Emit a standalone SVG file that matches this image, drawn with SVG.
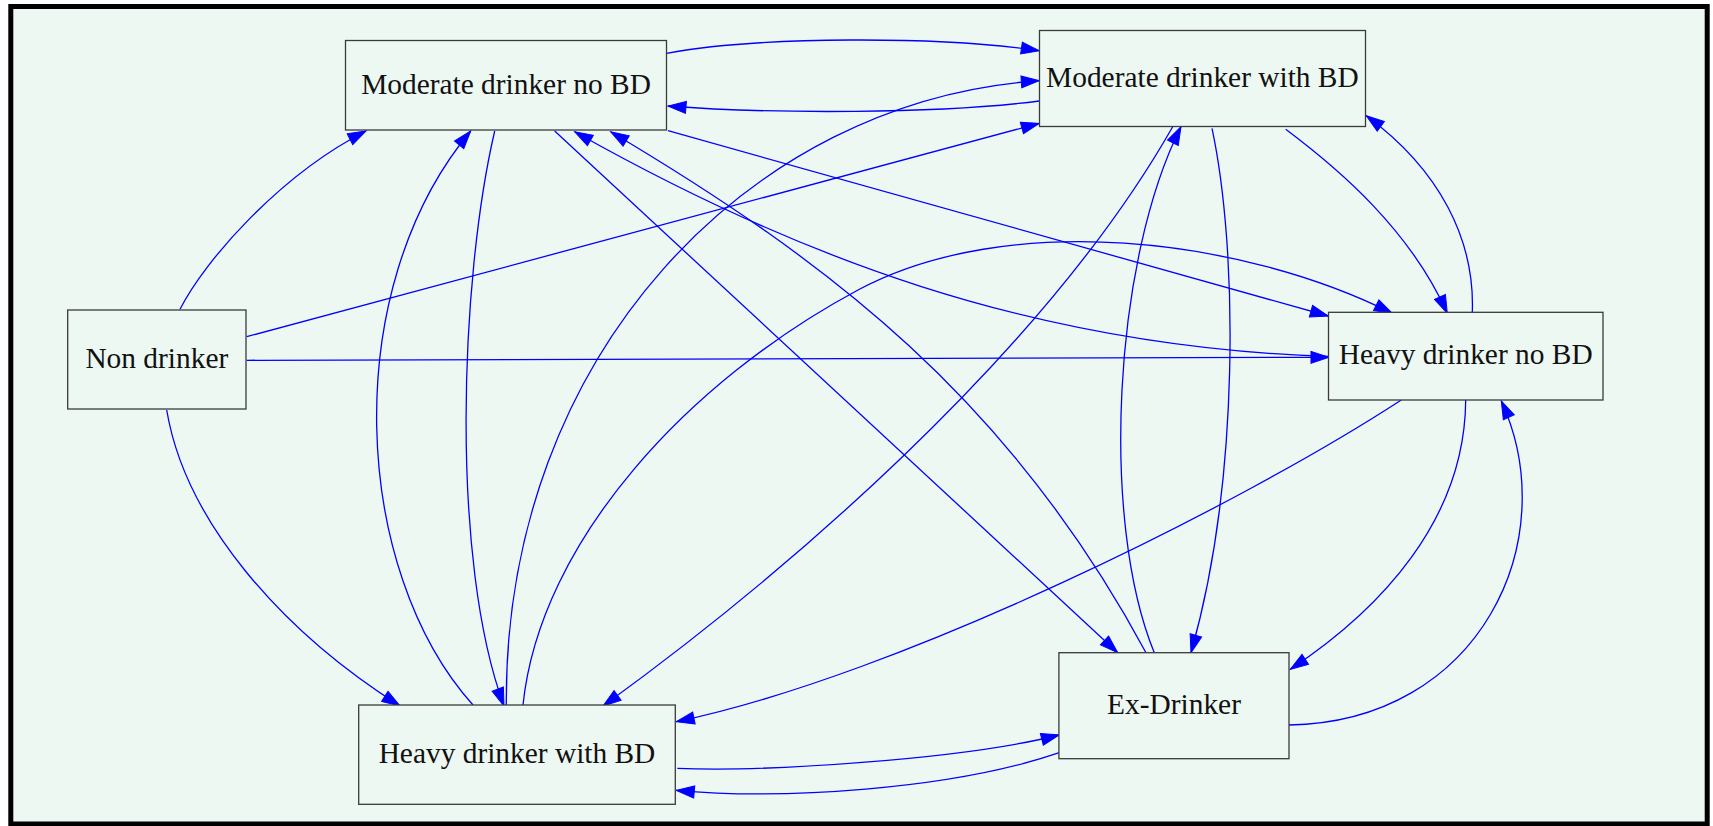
<svg xmlns="http://www.w3.org/2000/svg" width="1713" height="826" viewBox="0 0 1713 826">
  <defs>
    <style>
      .node rect { fill: #eef8f2; stroke: #3a3a3a; stroke-width: 1.3; }
      .node text { font-family: "Liberation Serif", "Times New Roman", serif; font-size: 29.4px; fill: #111; text-anchor: middle; }
      #edges path { fill: none; stroke: #0000ff; stroke-width: 1.3; marker-end: url(#arrow); }
    </style>
    <marker id="arrow" markerUnits="userSpaceOnUse" viewBox="0 0 18 12" markerWidth="18" markerHeight="12" refX="18" refY="6" orient="auto" overflow="visible">
      <path d="M0,0 L18,6 L0,12 z" fill="#0000ff" stroke="#0000ff" stroke-width="1"/>
    </marker>
  </defs>

  <!-- canvas with heavy border -->
  <rect x="0" y="0" width="1713" height="826" fill="#ffffff"/>
  <rect id="frame" x="10.8" y="6.5" width="1696.4" height="817.5" fill="#eef8f2" stroke="#000000" stroke-width="5"/>

  <!-- transitions -->
  <g id="edges">
    <path id="e-modno-modbd" d="M666.7,53.3 C760,36 940,36 1039.3,50.7"/>
    <path id="e-modbd-modno" d="M1039.3,101 C940,114 770,114 668,106"/>
    <path id="e-non-modno" d="M180,309.3 C205,260 280,175 366,131"/>
    <path id="e-non-modbd" d="M246.7,336.7 L1039.3,123.3"/>
    <path id="e-non-heavyno" d="M246.7,360.3 L1329,357.3"/>
    <path id="e-non-heavybd" d="M166.7,410 C185,520 280,630 400,706"/>
    <path id="e-heavybd-modno" d="M473,705 C352,570 338,290 470.7,131"/>
    <path id="e-modno-heavybd" d="M494.7,131 C460,280 450,560 504,706"/>
    <path id="e-heavybd-modbd" d="M506.3,705 C504,355 750,100 1039.3,80.7"/>
    <path id="e-heavybd-heavyno" d="M523,705 C540,540 690,380 858,290 C1007.6,210.1 1240.3,237.3 1392.3,313.3"/>
    <path id="e-modno-ex" d="M554.7,131 L1117.7,652.7"/>
    <path id="e-ex-modno" d="M1146,652.7 C1010,400 830,262 610.7,131.7"/>
    <path id="e-heavyno-modno" d="M1328.3,356.5 C1028.3,346.5 792.2,254.2 574.7,131.7"/>
    <path id="e-modno-heavyno" d="M668,130.7 L1328.3,316"/>
    <path id="e-modbd-heavybd" d="M1172.7,126.7 C1040,360 770,585 603,706"/>
    <path id="e-ex-modbd" d="M1154.3,652.7 C1100,520 1113.5,260.2 1181,126.7"/>
    <path id="e-modbd-ex" d="M1212,128.3 C1238,250 1240,480 1191,652.7"/>
    <path id="e-modbd-heavyno" d="M1285.7,129.3 C1340,170 1410,230 1447.3,313.3"/>
    <path id="e-heavyno-modbd" d="M1472.3,312.3 C1475,240 1440,170 1366.3,115.7"/>
    <path id="e-heavyno-heavybd" d="M1401.3,400 C1240,505 900,675 676.3,721.7"/>
    <path id="e-heavyno-ex" d="M1465.7,400 C1465,520 1380,610 1290.3,669.3"/>
    <path id="e-ex-heavyno" d="M1289,725 C1480,722 1565,540 1501.3,401"/>
    <path id="e-heavybd-ex" d="M677.3,768.3 C760,772 960,760 1059.3,735"/>
    <path id="e-ex-heavybd" d="M1059.3,752.7 C950,790 780,800 676.3,790.3"/>
  </g>

  <!-- states -->
  <g id="node-modno" class="node">
    <rect x="345.5" y="40.5" width="321" height="89.5"/>
    <text x="506" y="94.3">Moderate drinker no BD</text>
  </g>
  <g id="node-modbd" class="node">
    <rect x="1039.5" y="30.5" width="326" height="96"/>
    <text x="1202.4" y="87.3">Moderate drinker with BD</text>
  </g>
  <g id="node-non" class="node">
    <rect x="67.7" y="310" width="178.3" height="99"/>
    <text x="156.8" y="367.7">Non drinker</text>
  </g>
  <g id="node-heavyno" class="node">
    <rect x="1328.5" y="312.3" width="274.5" height="87.7"/>
    <text x="1465.7" y="364.3">Heavy drinker no BD</text>
  </g>
  <g id="node-ex" class="node">
    <rect x="1058.9" y="652.7" width="230.1" height="106"/>
    <text x="1174" y="713.7">Ex-Drinker</text>
  </g>
  <g id="node-heavybd" class="node">
    <rect x="358.7" y="705" width="316.6" height="99.3"/>
    <text x="517" y="762.7">Heavy drinker with BD</text>
  </g>
</svg>
